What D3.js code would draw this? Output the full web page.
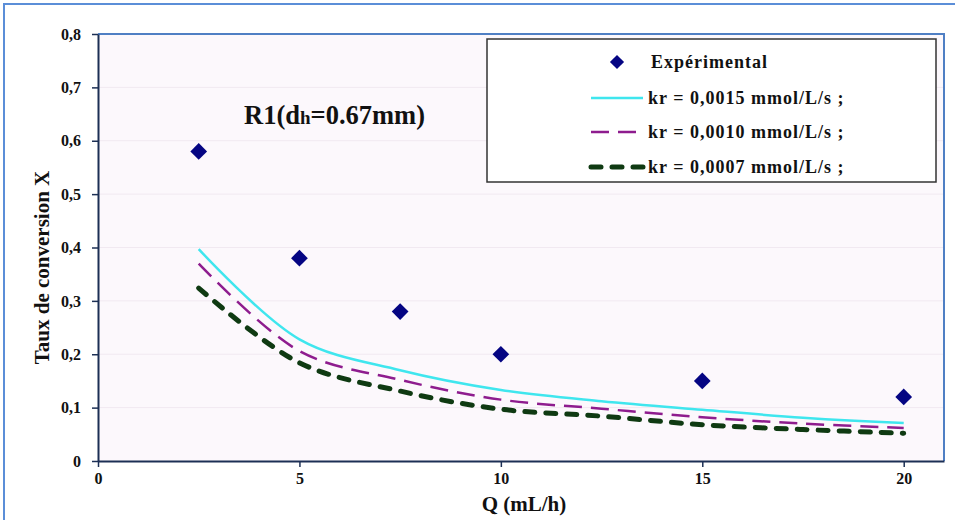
<!DOCTYPE html>
<html><head><meta charset="utf-8">
<script src="https://cdn.jsdelivr.net/npm/d3@7"></script>
<style>body{margin:0;background:#fff}svg{display:block}text{font-family:"Liberation Serif","Times New Roman",serif;font-weight:bold;fill:#111}</style>
</head><body><svg id="c" width="955" height="520"></svg>
<script>
const expQ = [2.5, 5, 7.5, 10, 15, 20];
const expX = [0.58, 0.38, 0.28, 0.20, 0.15, 0.12];
const modelQ = [2.5, 5, 7.5, 10, 12.5, 15, 17.5, 20];
const kr15 = [0.397, 0.228, 0.170, 0.133, 0.112, 0.096, 0.081, 0.071];
const kr10 = [0.370, 0.206, 0.152, 0.115, 0.098, 0.082, 0.070, 0.062];
const kr07 = [0.324, 0.184, 0.131, 0.097, 0.084, 0.068, 0.059, 0.052];
const xTicks = [0, 5, 10, 15, 20];
const yTicks = [0, 0.1, 0.2, 0.3, 0.4, 0.5, 0.6, 0.7, 0.8];
const legendLabels = ["Expérimental", "kr = 0,0015 mmol/L/s ;", "kr = 0,0010 mmol/L/s ;", "kr = 0,0007 mmol/L/s ;"];

const svg = d3.select("#c");
const L = 98, R = 944, T = 34, B = 461;
const x = d3.scaleLinear().domain([0, 21]).range([L, R]);
const y = d3.scaleLinear().domain([0, 0.8]).range([B, T]);

// outer frame
svg.append("path").attr("d", `M4,520 V4 H955`).attr("fill", "none").attr("stroke", "#5b8ed8").attr("stroke-width", 2);

// plot area
svg.append("rect").attr("x", L).attr("y", T).attr("width", R - L).attr("height", B - T).attr("fill", "#fcf8fc");
svg.append("g").selectAll("line").data(yTicks.slice(1)).join("line")
  .attr("x1", L).attr("x2", R).attr("y1", d => y(d)).attr("y2", d => y(d))
  .attr("stroke", "#f1e9f1").attr("stroke-width", 1);
svg.append("path").attr("d", `M${L},${T} H${R} V${B}`).attr("fill", "none").attr("stroke", "#4f7fc4").attr("stroke-width", 2);

// axes
const fmt = d => d === 0 ? "0" : d3.format(".1f")(d).replace(".", ",");
const yAx = svg.append("g").attr("transform", `translate(${L},0)`)
  .call(d3.axisLeft(y).tickValues(yTicks).tickFormat(fmt).tickSize(6).tickSizeOuter(0));
const xAx = svg.append("g").attr("transform", `translate(0,${B})`)
  .call(d3.axisBottom(x).tickValues(xTicks).tickFormat(d3.format("d")).tickSize(6).tickSizeOuter(0));
[yAx, xAx].forEach(g => {
  g.select(".domain").attr("stroke", "#1c2f55").attr("stroke-width", 2);
  g.selectAll(".tick line").attr("stroke", "#1c2f55").attr("stroke-width", 1.5);
  g.selectAll(".tick text").attr("font-size", 16).attr("font-family", "Liberation Serif, serif").attr("font-weight", "bold").attr("fill", "#222");
});
yAx.selectAll(".tick text").attr("x", -17);
xAx.selectAll(".tick text").attr("y", 12);

svg.append("text").attr("transform", `translate(49,${(T + B) / 2 + 20}) rotate(-90)`).attr("text-anchor", "middle")
  .attr("font-size", 21).text("Taux de conversion X");
svg.append("text").attr("x", 524).attr("y", 511).attr("text-anchor", "middle").attr("font-size", 21).text("Q (mL/h)");

// title
const tt = svg.append("text").attr("x", 244).attr("y", 124).attr("font-size", 26.5);
tt.append("tspan").text("R1(d");
tt.append("tspan").attr("font-size", 19).text("h");
tt.append("tspan").text("=0.67mm)");

// curves
const line = d3.line().x(d => x(d[0])).y(d => y(d[1])).curve(d3.curveCatmullRom.alpha(0.5));
const series = [
  {vals: kr15, color: "#3fe6ee", w: 2.5, dash: null, cap: "butt"},
  {vals: kr10, color: "#8e1c8e", w: 2.5, dash: "18,9", cap: "butt"},
  {vals: kr07, color: "#0f3a12", w: 5, dash: "10,11", cap: "round"}
];
series.forEach(s => {
  svg.append("path").datum(modelQ.map((q, i) => [q, s.vals[i]])).attr("d", line)
    .attr("fill", "none").attr("stroke", s.color).attr("stroke-width", s.w)
    .attr("stroke-dasharray", s.dash).attr("stroke-linecap", s.cap);
});

const diamond = d3.symbol().type(d3.symbolSquare).size(140);
svg.append("g").selectAll("path").data(expQ.map((q, i) => [q, expX[i]])).join("path")
  .attr("d", diamond).attr("transform", d => `translate(${x(d[0])},${y(d[1])}) rotate(45)`)
  .attr("fill", "#050583");

// legend
svg.append("rect").attr("x", 487).attr("y", 39).attr("width", 449).attr("height", 143)
  .attr("fill", "#fff").attr("stroke", "#333").attr("stroke-width", 1.5);
const rowsY = [62, 98, 132, 167];
svg.append("path").attr("d", diamond.size(100)()).attr("transform", `translate(617,${rowsY[0]}) rotate(45)`).attr("fill", "#050583");
series.forEach((s, i) => {
  svg.append("line").attr("x1", 591).attr("x2", 643).attr("y1", rowsY[i + 1]).attr("y2", rowsY[i + 1])
    .attr("stroke", s.color).attr("stroke-width", s.w).attr("stroke-dasharray", s.dash).attr("stroke-linecap", s.cap);
});
legendLabels.forEach((t, i) => {
  svg.append("text").attr("x", i === 0 ? 651 : 648).attr("y", rowsY[i] + 6).attr("font-size", 18)
    .attr("letter-spacing", 1).text(t);
});
</script></body></html>
